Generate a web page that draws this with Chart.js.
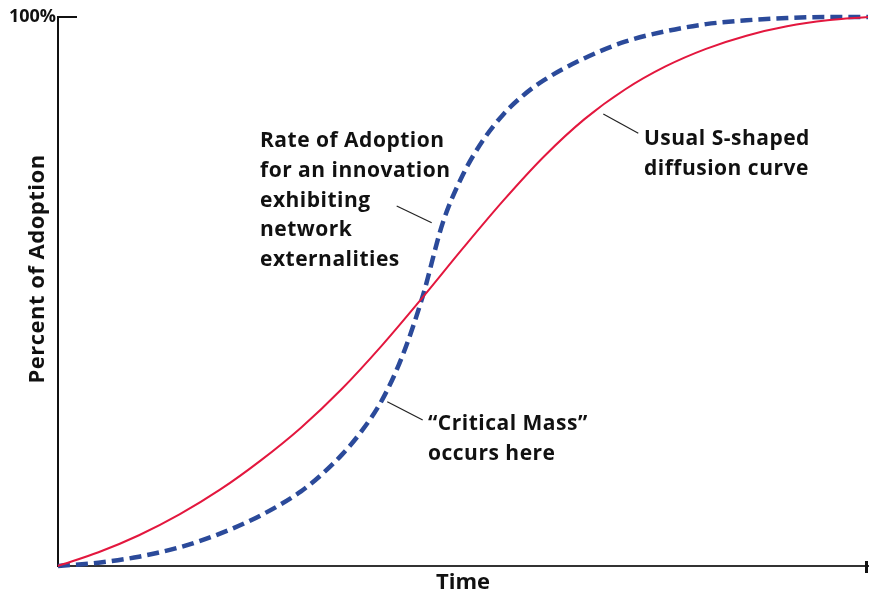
<!DOCTYPE html>
<html>
<head>
<meta charset="utf-8">
<script src="https://cdn.jsdelivr.net/npm/chart.js@4.4.1/dist/chart.umd.min.js"></script>
<style>
  html, body { margin: 0; padding: 0; background: #ffffff; }
  #wrap { width: 869px; height: 592px; }
</style>
</head>
<body>
<div id="wrap"><canvas id="adoptionChart" width="869" height="592"></canvas></div>
<script>
// Tijd-as (0..100) en adoptie in procenten
const timeSteps = [0, 5, 10, 15, 20, 25, 30, 35, 40, 45, 50, 55, 60, 65, 70, 75, 80, 85, 90, 95, 100];
const usualAdoption = [0, 2.5, 5.6, 9.4, 13.9, 19.2, 25.2, 32.2, 40.2, 48.9, 57.9, 66.6, 74.6, 81.4, 86.8, 91.0, 94.2, 96.6, 98.3, 99.4, 100];

const networkTime = [0, 5, 10, 15, 20, 25, 30, 32.5, 35, 37.5, 40, 42.5, 45, 47.5, 50, 52.5, 55, 57.5, 60, 65, 70, 75, 80, 85, 90, 95, 100];
const networkAdoption = [0, 0.6, 1.7, 3.4, 5.9, 9.2, 13.6, 16.6, 20.2, 24.6, 30.2, 38.2, 49.0, 62.5, 71.3, 77.6, 82.3, 85.8, 88.5, 92.5, 95.5, 97.4, 98.7, 99.4, 99.8, 100, 100];

const yTickLabels = { 100: '100%' };
const xTitle = 'Time';
const yTitle = 'Percent of Adoption';

const networkNote = ['Rate of Adoption', 'for an innovation', 'exhibiting', 'network', 'externalities'];
const criticalNote = ['\u201CCritical Mass\u201D', 'occurs here'];
const usualNote = ['Usual S-shaped', 'diffusion curve'];

const FONT = '"Open Sans", "Noto Sans", sans-serif';

// Plugin voor annotaties, verwijslijntjes, y-titel en de kleine asmarkeringen
const notesPlugin = {
    id: 'notes',
    afterDraw(chart) {
        const ctx = chart.ctx;
        const area = chart.chartArea;
        ctx.save();

        // kleine streep bij 100% en eindstreep van de tijd-as
        ctx.strokeStyle = '#111';
        ctx.lineWidth = 2;
        ctx.beginPath();
        ctx.moveTo(area.left, area.top);
        ctx.lineTo(area.left + 19, area.top);
        ctx.stroke();
        ctx.lineWidth = 3;
        ctx.beginPath();
        ctx.moveTo(area.right - 1.5, area.bottom - 5);
        ctx.lineTo(area.right - 1.5, area.bottom + 7);
        ctx.stroke();

        // verwijslijntjes
        ctx.lineWidth = 1.2;
        ctx.strokeStyle = '#222';
        const leaders = [
            [396.7, 206, 431.7, 222.7],
            [387.3, 401.7, 422.7, 420],
            [603.3, 114, 638.3, 133.3]
        ];
        leaders.forEach(l => {
            ctx.beginPath();
            ctx.moveTo(l[0], l[1]);
            ctx.lineTo(l[2], l[3]);
            ctx.stroke();
        });

        // teksten
        ctx.fillStyle = '#111';
        ctx.font = 'bold 21px ' + FONT;
        ctx.letterSpacing = '0.5px';
        ctx.textAlign = 'left';
        ctx.textBaseline = 'alphabetic';
        networkNote.forEach((t, i) => ctx.fillText(t, 260, 147 + i * 29.8));
        criticalNote.forEach((t, i) => ctx.fillText(t, 428, 429.5 + i * 30.5));
        usualNote.forEach((t, i) => ctx.fillText(t, 644, 145 + i * 29.5));

        // y-titel, iets boven het midden zoals in het origineel
        ctx.translate(38, 269);
        ctx.rotate(-Math.PI / 2);
        ctx.textAlign = 'center';
        ctx.textBaseline = 'middle';
        ctx.font = 'bold 22px ' + FONT;
        ctx.fillText(yTitle, 0, 0);

        ctx.restore();
    }
};

const ctx = document.getElementById('adoptionChart').getContext('2d');
new Chart(ctx, {
    type: 'line',
    data: {
        datasets: [
            {
                label: 'Usual S-shaped diffusion curve',
                data: timeSteps.map((t, i) => ({ x: t, y: usualAdoption[i] })),
                borderColor: '#e3173e',
                borderWidth: 2,
                pointRadius: 0,
                cubicInterpolationMode: 'monotone',
                fill: false,
                clip: false
            },
            {
                label: 'Network externalities',
                data: networkTime.map((t, i) => ({ x: t, y: networkAdoption[i] })),
                borderColor: '#2b4a9a',
                borderWidth: 4.5,
                borderDash: [12, 6],
                borderCapStyle: 'butt',
                pointRadius: 0,
                cubicInterpolationMode: 'monotone',
                fill: false,
                clip: false
            }
        ]
    },
    options: {
        responsive: false,
        animation: false,
        devicePixelRatio: 1,
        layout: { padding: { top: 17, right: 1, left: 0, bottom: 0 } },
        plugins: {
            legend: { display: false },
            tooltip: { enabled: false }
        },
        scales: {
            x: {
                type: 'linear',
                min: 0,
                max: 100,
                grid: { display: false, drawTicks: false },
                border: { display: true, color: '#333', width: 2 },
                ticks: { display: false },
                title: {
                    display: true,
                    text: xTitle,
                    color: '#111',
                    font: { family: FONT, size: 22, weight: 'bold' },
                    padding: { top: 0, bottom: -4 }
                },
                afterFit: s => { s.height = 26; }
            },
            y: {
                min: 0,
                max: 100,
                grid: { display: false, drawTicks: false },
                border: { display: true, color: '#111', width: 2 },
                ticks: {
                    stepSize: 100,
                    padding: 2,
                    color: '#111',
                    font: { family: FONT, size: 18, weight: 'bold' },
                    callback: v => yTickLabels[v] || ''
                },
                title: { display: false },
                afterFit: s => { s.width = 58; }
            }
        }
    },
    plugins: [notesPlugin]
});
</script>
</body>
</html>
